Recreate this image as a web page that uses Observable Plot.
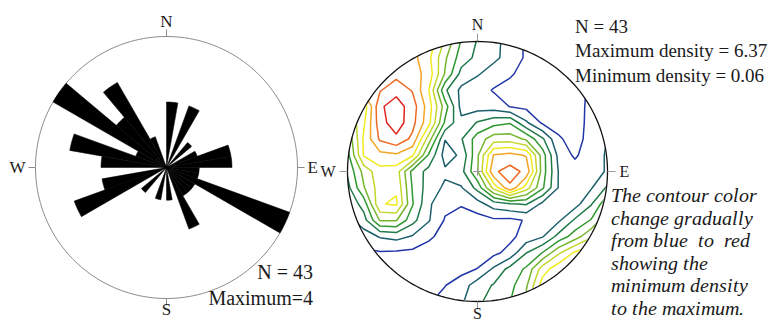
<!DOCTYPE html>
<html><head><meta charset="utf-8">
<script src="https://cdn.jsdelivr.net/npm/d3@7"></script>
<script src="https://cdn.jsdelivr.net/npm/@observablehq/plot@0.6"></script>
<style>
@font-face{font-family:"SerifI";src:local("Liberation Serif Italic"),local("LiberationSerif-Italic");font-style:italic;font-weight:normal;}
@font-face{font-family:"SerifR";src:local("Liberation Serif"),local("LiberationSerif");font-style:normal;font-weight:normal;}
html,body{margin:0;padding:0;background:#fff;}
#wrap{position:relative;width:770px;height:323px;overflow:hidden;background:#fff;font-family:"Liberation Serif","Times New Roman",serif;color:#1a1a1a;}
.t{position:absolute;white-space:pre;line-height:1;}
.it{font-family:"SerifI","SerifR","Liberation Serif",serif;font-style:italic;font-synthesis:style;}
</style></head><body>
<div id="wrap">
  <div id="rose" style="position:absolute;left:0;top:0"></div>
  <div id="stereo" style="position:absolute;left:310px;top:0"></div>
  <div class="t" style="right:457px;top:262px;font-size:20px">N = 43</div>
  <div class="t" style="right:457px;top:288px;font-size:20px">Maximum=4</div>
  <div class="t" style="left:575px;top:16.5px;font-size:19px">N = 43</div>
  <div class="t" style="left:575px;top:40.5px;font-size:19px">Maximum density = 6.37</div>
  <div class="t" style="left:575px;top:66px;font-size:19px">Minimum density = 0.06</div>
  <div class="t it" style="left:611px;top:185px;font-size:19.5px;line-height:22.5px;">The contour color
change gradually
from blue  to  red
showing the
minimum density
to the maximum.</div>
</div>
<script>
// ---------- data ----------
const roseBinWidth = 10;            // degrees per petal
const roseCounts = [2,0,2,0,1,0,1,2,2,1,1,4,1,1,1,2,0,1,0,1,0,0,1,0,3,2,0,2,3,1,4,2,3,1,0,0]; // bins 0-10 ... 350-360
const roseMax = 4;
const compassLabels = ["N","E","S","W"];
const compassAz = [0,90,180,270];

const contourLevels = [0.6,1.2,1.8,2.4,3.0,3.6,4.2,4.8,5.4,6.0];
const contourColors = ["#2236a8","#1b5f6c","#1f7a48","#2f982e","#74b62a","#c2d62b","#f1ea1e","#f3a523","#ee6a22","#e2201c"];

// density grid, rows from north (top) to south, columns west to east, step 0.125 of the net radius
const gridSize = 17;
const gridStep = 0.125;
const densityRows = [
  [5.0,5.0,5.0,5.0,5.0,4.6,3.5,2.35,1.75,1.35,1.0,0.5,0.4,0.4,0.4,0.45,0.5],
  [5.2,5.2,5.2,5.2,5.0,4.35,3.1,2.1,1.65,1.32,1.0,0.5,0.4,0.4,0.4,0.45,0.5],
  [5.0,5.0,5.0,5.2,5.1,4.55,2.95,1.6,1.25,0.95,0.65,0.45,0.4,0.4,0.45,0.5,0.55],
  [5.0,5.0,5.35,5.8,5.35,4.22,1.9,1.05,0.85,0.55,0.45,0.35,0.35,0.4,0.5,0.65,0.8],
  [3.5,3.8,5.9,6.3,5.7,4.5,2.7,1.0,0.95,0.9,0.58,0.45,0.4,0.4,0.45,0.7,0.9],
  [3.0,4.1,5.75,6.35,5.6,4.4,2.3,1.35,1.85,2.2,2.35,1.3,0.5,0.45,0.4,0.75,1.22],
  [2.5,4.3,5.5,5.85,5.25,3.3,1.22,1.75,2.7,3.3,3.3,2.9,1.9,0.65,0.45,0.75,1.22],
  [2.2,4.25,4.6,4.7,4.3,2.3,0.95,1.3,2.9,4.85,5.0,4.75,2.7,1.0,0.5,1.0,1.25],
  [1.9,3.2,4.0,3.9,2.2,1.6,1.3,1.6,2.95,5.3,5.65,5.25,2.7,1.15,0.9,1.0,1.25],
  [1.6,2.95,3.9,4.1,2.35,1.5,1.1,1.15,2.0,3.8,5.3,3.9,2.5,1.15,0.9,1.15,1.9],
  [1.3,2.05,4.15,4.3,2.45,1.3,0.75,0.65,0.95,1.5,1.75,1.85,1.05,0.9,0.95,1.75,2.9],
  [1.0,1.55,3.05,3.05,2.0,1.25,0.55,0.35,0.35,0.5,0.45,0.65,0.9,1.1,1.9,2.45,3.5],
  [0.75,0.9,1.25,1.4,1.15,0.7,0.4,0.3,0.25,0.35,0.45,0.85,1.15,2.0,2.7,3.5,4.0],
  [0.5,0.5,0.55,0.5,0.45,0.35,0.25,0.2,0.25,0.45,0.8,1.78,2.42,3.5,4.3,4.7,4.9],
  [0.45,0.45,0.45,0.45,0.35,0.3,0.3,0.4,0.62,1.3,2.0,2.5,3.9,4.6,5.0,5.0,5.0],
  [0.45,0.45,0.45,0.45,0.45,0.45,0.58,0.9,1.5,1.85,2.2,2.9,4.5,5.0,5.0,5.0,5.0],
  [0.45,0.45,0.45,0.45,0.5,0.55,0.8,1.1,1.7,2.0,2.38,3.2,4.6,5.0,5.0,5.0,5.0]
];

// ---------- helpers ----------
const rad = a => a * Math.PI / 180;
const px = d => d.r * Math.sin(rad(d.az));
const py = d => d.r * Math.cos(rad(d.az));
const ring = r => d3.range(0, 361, 2).map(az => ({az, r}));
const anchorFor = (i, gap, gapS) => [
  {lineAnchor: "bottom", dy: -gap},
  {textAnchor: "start", dx: gap},
  {lineAnchor: "top", dy: gapS},
  {textAnchor: "end", dx: -gap}
][i];
function compass(rCircle, rTick, gap, gapS, fontSize, tickColor) {
  return [
    Plot.link(compassAz, {
      x1: a => rCircle * Math.sin(rad(a)), y1: a => rCircle * Math.cos(rad(a)),
      x2: a => rTick * Math.sin(rad(a)), y2: a => rTick * Math.cos(rad(a)),
      stroke: tickColor, strokeWidth: 1
    }),
    ...compassAz.map((a, i) => Plot.text([compassLabels[i]], {
      x: () => rTick * Math.sin(rad(a)), y: () => rTick * Math.cos(rad(a)),
      text: d => d, fontSize, fill: "#1a1a1a", ...anchorFor(i, gap, gapS)
    }))
  ];
}
const baseStyle = {background: "transparent", fontFamily: "Liberation Serif, Times New Roman, serif", overflow: "visible"};

// ---------- rose diagram ----------
const petals = [];
roseCounts.forEach((c, i) => {
  if (!c) return;
  const a0 = i * roseBinWidth;
  petals.push({id: i, r: 0, az: a0});
  for (let k = 0; k <= 4; k++) petals.push({id: i, r: c, az: a0 + k * roseBinWidth / 4});
  petals.push({id: i, r: 0, az: a0 + roseBinWidth});
});
{
  const W = 310, H = 323, cx = 166, cy = 167, k = 131 / roseMax;
  const rose = Plot.plot({
    width: W, height: H, margin: 0, style: baseStyle,
    x: {domain: [-cx / k, (W - cx) / k], axis: null},
    y: {domain: [-(H - cy) / k, cy / k], axis: null},
    marks: [
      Plot.line(ring(roseMax), {x: px, y: py, stroke: "#8c8c8c", strokeWidth: 1}),
      Plot.line(petals, {x: px, y: py, z: "id", fill: "black", stroke: "black", strokeWidth: 0.5, curve: "linear"}),
      ...compass(roseMax, roseMax + 7 / k, 3, -3, 17, "#8c8c8c")
    ]
  });
  document.getElementById("rose").appendChild(rose);
}

// ---------- contoured stereonet ----------
{
  const W = 460, H = 323, cx = 167, cy = 171, k = 130;
  const values = densityRows.flat();
  const half = gridStep / 2;
  const ext = (gridSize - 1) / 2 * gridStep + half;
  const st = Plot.plot({
    width: W, height: H, margin: 0, style: baseStyle,
    x: {domain: [-cx / k, (W - cx) / k], axis: null},
    y: {domain: [-(H - cy) / k, cy / k], axis: null},
    marks: [
      ...contourLevels.map((t, i) => Plot.contour(values, {
        width: gridSize, height: gridSize,
        x1: -ext, x2: ext, y1: ext, y2: -ext,
        thresholds: [t], fill: "none", stroke: contourColors[i], strokeWidth: 1.5
      })),
      Plot.line(ring(1), {x: px, y: py, stroke: "#111", strokeWidth: 1.3}),
      Plot.link(compassAz, {x1: 0, y1: 0, x2: a => 0.032 * Math.sin(rad(a)), y2: a => 0.032 * Math.cos(rad(a)), stroke: "#999", strokeWidth: 1}),
      ...compass(1, 1 + 8 / k, 4, -2, 16, "#999")
    ]
  });
  const sx = st.scale("x"), sy = st.scale("y");
  const ccx = sx.apply(0), ccy = sy.apply(0), rr = sx.apply(1) - ccx;
  const svg = d3.select(st);
  svg.insert("defs", ":first-child").append("clipPath").attr("id", "netClip")
    .append("circle").attr("cx", ccx).attr("cy", ccy).attr("r", rr);
  const groups = st.querySelectorAll('g[aria-label="contour"]');
  if (groups.length) {
    const g = document.createElementNS("http://www.w3.org/2000/svg", "g");
    g.setAttribute("clip-path", "url(#netClip)");
    groups[0].parentNode.insertBefore(g, groups[0]);
    groups.forEach(n => g.appendChild(n));
  }
  document.getElementById("stereo").appendChild(st);
}
</script>
</body></html>
